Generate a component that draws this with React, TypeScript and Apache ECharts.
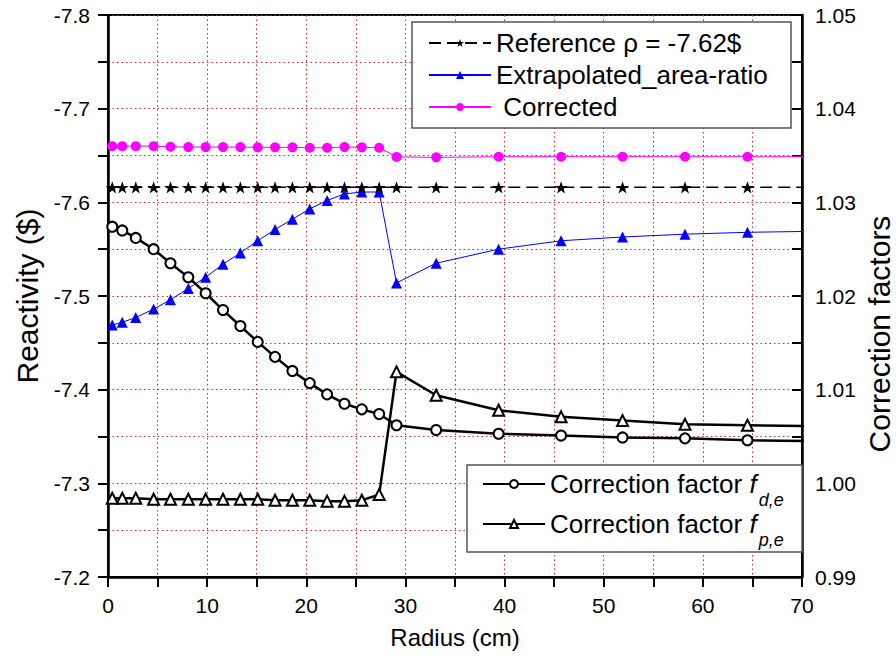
import React, { useEffect, useRef } from 'react';
import * as echarts from 'echarts';

// Radius (cm) of each computed point (last point lies just beyond the visible axis range)
const radius = [0.43, 1.44, 2.8, 4.6, 6.3, 8.1, 9.85, 11.6, 13.35, 15.1, 16.85, 18.6, 20.35, 22.1, 23.85, 25.6, 27.35, 29.1, 33.1, 39.4, 45.7, 51.9, 58.2, 64.5, 70.8];

// Reactivity ($) – left axis
const referenceRho = [-7.616, -7.616, -7.616, -7.616, -7.616, -7.616, -7.616, -7.616, -7.616, -7.616, -7.616, -7.616, -7.616, -7.616, -7.616, -7.616, -7.616, -7.616, -7.616, -7.616, -7.616, -7.616, -7.616, -7.616, -7.616];
const extrapolated = [-7.469, -7.472, -7.477, -7.486, -7.496, -7.508, -7.52, -7.534, -7.546, -7.559, -7.571, -7.582, -7.593, -7.602, -7.609, -7.611, -7.611, -7.514, -7.535, -7.55, -7.559, -7.563, -7.566, -7.568, -7.569];
const corrected = [-7.66, -7.66, -7.66, -7.66, -7.6593, -7.659, -7.659, -7.659, -7.659, -7.6587, -7.6587, -7.6587, -7.6583, -7.6583, -7.659, -7.6587, -7.6583, -7.6485, -7.648, -7.6487, -7.6487, -7.6487, -7.6487, -7.6487, -7.6487];

// Correction factors – right axis
const fde = [1.0274, 1.027, 1.0262, 1.025, 1.0235, 1.022, 1.0203, 1.0185, 1.0168, 1.0151, 1.0135, 1.012, 1.0107, 1.0095, 1.0085, 1.0079, 1.0074, 1.0062, 1.0057, 1.0053, 1.0051, 1.0049, 1.0048, 1.0046, 1.0045];
const fpe = [0.9984, 0.9984, 0.9984, 0.9983, 0.9983, 0.9983, 0.9983, 0.9983, 0.9983, 0.9983, 0.9982, 0.9982, 0.9982, 0.9981, 0.9981, 0.9982, 0.9988, 1.0119, 1.0094, 1.0078, 1.0071, 1.0067, 1.0063, 1.0062, 1.0061];

const seriesNames = ['Reference ρ = -7.62$', 'Extrapolated_area-ratio', ' Corrected'];
const factorNames = ['Correction factor fd,e', 'Correction factor fp,e'];
const factorSubs = ['d,e', 'p,e'];
const rightTitle = 'Correction factors';

const xRange = [0, 70];
const leftRange = [-7.8, -7.2];
const rightRange = [0.99, 1.05];

const FONT = "'Liberation Sans', Arial, Helvetica, sans-serif";
const STAR = 'path://M50,0 L61.8,35.1 L98.1,35.1 L68.8,56.7 L79.4,90.9 L50,69.1 L20.6,90.9 L31.2,56.7 L1.9,35.1 L38.2,35.1 Z';
const GRID_COLOR = '#b8312f';

const pairs = (ys: number[]) => radius.map((r, i) => [r, ys[i]]);

export default function App() {
  const ref = useRef<HTMLDivElement>(null);
  useEffect(() => {
    if (!ref.current) return;
    const chart = echarts.init(ref.current, undefined, { renderer: 'svg' });
    const splitLine = { show: true, lineStyle: { color: GRID_COLOR, type: [1.5, 3], width: 1 } };
    chart.setOption({
      animation: false,
      backgroundColor: '#fff',
      textStyle: { fontFamily: FONT, color: '#000' },
      grid: { left: 108, right: 94, top: 15, bottom: 87, show: true, borderColor: '#000', borderWidth: 2, backgroundColor: 'transparent', outerBoundsMode: 'none' },
      xAxis: {
        type: 'value', min: xRange[0], max: xRange[1], interval: 5,
        name: 'Radius (cm)', nameLocation: 'middle', nameGap: 48,
        nameTextStyle: { fontSize: 24, fontFamily: FONT, color: '#000' },
        axisLine: { show: true, lineStyle: { color: '#000', width: 2.5 } },
        axisTick: { show: true, length: 10, lineStyle: { color: '#000', width: 2 } },
        axisLabel: { fontSize: 21, fontFamily: FONT, color: '#000', margin: 18, formatter: (v: number) => (Math.round(v) % 10 === 0 ? String(Math.round(v)) : '') },
        splitLine,
      },
      yAxis: [
        {
          type: 'value', inverse: true, min: leftRange[0], max: leftRange[1], interval: 0.05, position: 'left',
          name: 'Reactivity ($)', nameLocation: 'middle', nameGap: 66, nameRotate: 90,
          nameTextStyle: { fontSize: 30, fontFamily: FONT, color: '#000' },
          axisLine: { show: true, onZero: false, lineStyle: { color: '#000', width: 2.5 } },
          axisTick: { show: true, length: 10, lineStyle: { color: '#000', width: 2 } },
          axisLabel: {
            fontSize: 21, fontFamily: FONT, color: '#000', margin: 18,
            formatter: (v: number) => (Math.abs(Math.round(v * 10) - v * 10) < 1e-6 ? v.toFixed(1) : ''),
          },
          splitLine,
        },
        {
          type: 'value', min: rightRange[0], max: rightRange[1], interval: 0.005, position: 'right',
          axisLine: { show: true, onZero: false, lineStyle: { color: '#000', width: 2.5 } },
          axisTick: { show: true, inside: true, length: 10, lineStyle: { color: '#000', width: 2 } },
          axisLabel: {
            fontSize: 21, fontFamily: FONT, color: '#000', margin: 13,
            formatter: (v: number) => (Math.abs(Math.round(v * 100) - v * 100) < 1e-6 ? v.toFixed(2) : ''),
          },
          splitLine: { show: false },
        },
      ],
      graphic: [
        { type: 'rect', z: 3, shape: { x: 412, y: 22, width: 379, height: 106 }, style: { fill: '#fff', stroke: '#555', lineWidth: 1.5 } },
        { type: 'rect', z: 3, shape: { x: 467, y: 465, width: 335, height: 87 }, style: { fill: '#fff', stroke: '#555', lineWidth: 1.5 } },
        {
          type: 'text', z: 5, x: 879, y: 334, rotation: Math.PI / 2,
          style: { text: rightTitle, fontSize: 30, fontFamily: FONT, fill: '#000', align: 'center', verticalAlign: 'middle' },
        },
      ],
      legend: [
        {
          z: 5, orient: 'vertical', left: 428, top: 28, padding: 0, itemGap: 2,
          itemWidth: 62, itemHeight: 10,
          data: seriesNames,
          textStyle: { fontSize: 26, fontFamily: FONT, color: '#000', lineHeight: 30 },
        },
        {
          z: 5, orient: 'vertical', left: 482, top: 471, padding: 0, itemGap: 2,
          itemWidth: 62, itemHeight: 10,
          data: factorNames,
          formatter: (name: string) => `Correction factor {i|f}{s|${factorSubs[factorNames.indexOf(name)]}}`,
          textStyle: {
            fontSize: 26, fontFamily: FONT, color: '#000',
            rich: {
              i: { fontSize: 26, fontStyle: 'italic', fontFamily: FONT, color: '#000' },
              s: { fontSize: 18, fontStyle: 'italic', fontFamily: FONT, color: '#000', padding: [32, 0, 0, 2] },
            },
          },
        },
      ],
      series: [
        {
          name: seriesNames[1], type: 'line', yAxisIndex: 0, data: pairs(extrapolated), z: 2,
          symbol: 'triangle', symbolSize: 11, itemStyle: { color: '#0000ff' }, lineStyle: { color: '#0000ff', width: 1 },
        },
        {
          name: seriesNames[2], type: 'line', yAxisIndex: 0, data: pairs(corrected), z: 2,
          symbol: 'circle', symbolSize: 10, itemStyle: { color: '#ff00ff' }, lineStyle: { color: '#ff00ff', width: 1 },
        },
        {
          name: seriesNames[0], type: 'line', yAxisIndex: 0, data: pairs(referenceRho), z: 2,
          symbol: STAR, symbolSize: 13, symbolKeepAspect: true, itemStyle: { color: '#000' }, lineStyle: { color: '#000', width: 1.5, type: [12, 6] },
        },
        {
          name: factorNames[0], type: 'line', yAxisIndex: 1, data: pairs(fde), z: 2,
          symbol: 'emptyCircle', symbolSize: 10, itemStyle: { color: '#000', borderWidth: 1 }, lineStyle: { color: '#000', width: 2.5 },
        },
        {
          name: factorNames[1], type: 'line', yAxisIndex: 1, data: pairs(fpe), z: 2,
          symbol: 'emptyTriangle', symbolSize: 11, itemStyle: { color: '#000', borderWidth: 1 }, lineStyle: { color: '#000', width: 2.5 },
        },
      ],
    });
    return () => chart.dispose();
  }, []);
  return <div ref={ref} style={{ position: 'fixed', left: 0, top: 0, width: 896, height: 664, background: '#fff' }} />;
}
